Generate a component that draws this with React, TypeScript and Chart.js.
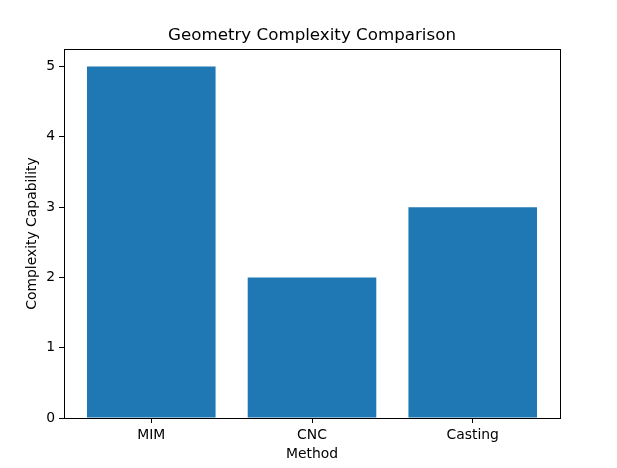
import React, { useEffect, useRef } from "react";
import { Chart, registerables } from "chart.js";

Chart.register(...registerables);

const categories = ["MIM", "CNC", "Casting"];
const complexity = [5, 2, 3];
const yTicks = [0, 1, 2, 3, 4, 5];

const FONT = "'DejaVu Sans', sans-serif";

const frame = {
  id: "frame",
  afterDatasetsDraw(chart: any) {
    const { ctx, chartArea } = chart;
    ctx.save();
    ctx.strokeStyle = "#000";
    ctx.lineWidth = 1;
    ctx.strokeRect(
      Math.round(chartArea.left) + 0.5,
      Math.round(chartArea.top) + 0.5,
      Math.round(chartArea.right - chartArea.left),
      Math.round(chartArea.bottom - chartArea.top)
    );
    ctx.restore();
  },
};

const App: React.FC = () => {
  const chartRef = useRef<HTMLCanvasElement | null>(null);
  const chartInstance = useRef<Chart | null>(null);

  useEffect(() => {
    document.body.style.margin = "0";
    if (!chartRef.current) return;
    const ctx = chartRef.current.getContext("2d");
    if (!ctx) return;
    if (chartInstance.current) chartInstance.current.destroy();

    chartInstance.current = new Chart(ctx, {
      type: "bar",
      data: {
        datasets: [
          {
            data: complexity.map((v, i) => ({ x: i, y: v })),
            backgroundColor: "#1f77b4",
            borderWidth: 0,
            inflateAmount: 0,
            barPercentage: 0.8,
            categoryPercentage: 1,
          },
        ],
      },
      options: {
        responsive: false,
        animation: false,
        layout: { padding: { left: 0, right: 57, top: 0, bottom: 0 } },
        plugins: {
          legend: { display: false },
          tooltip: { enabled: false },
          title: {
            display: true,
            fullSize: false,
            text: "Geometry Complexity Comparison",
            color: "#000",
            font: { family: FONT, size: 16.7, weight: "normal" },
            padding: { top: 26, bottom: 3 },
          },
        },
        scales: {
          x: {
            type: "linear",
            min: -0.543,
            max: 2.543,
            offset: false,
            afterFit: (s: any) => {
              s.height = 50;
            },
            afterBuildTicks: (s: any) => {
              s.ticks = categories.map((_, i) => ({ value: i }));
            },
            grid: {
              display: true,
              offset: false,
              drawOnChartArea: false,
              drawTicks: true,
              tickLength: 5,
              color: "#000",
            },
            border: { display: false },
            ticks: {
              color: "#000",
              padding: 4,
              font: { family: FONT, size: 13.9 },
              callback: (v: any) => categories[v] ?? "",
            },
            title: {
              display: true,
              text: "Method",
              color: "#000",
              font: { family: FONT, size: 13.9 },
              padding: { top: 0, bottom: 5 },
            },
          },
          y: {
            type: "linear",
            min: 0,
            max: 5.25,
            afterFit: (s: any) => {
              s.width = 64;
            },
            afterBuildTicks: (s: any) => {
              s.ticks = yTicks.map((v) => ({ value: v }));
            },
            grid: {
              display: true,
              drawOnChartArea: false,
              drawTicks: true,
              tickLength: 5,
              color: "#000",
            },
            border: { display: false },
            ticks: {
              color: "#000",
              padding: 4,
              font: { family: FONT, size: 13.9 },
            },
            title: {
              display: true,
              text: "Complexity Capability",
              color: "#000",
              font: { family: FONT, size: 13.9 },
              padding: { top: 24, bottom: 0 },
            },
          },
        },
      },
      plugins: [frame],
    });

    return () => {
      if (chartInstance.current) {
        chartInstance.current.destroy();
        chartInstance.current = null;
      }
    };
  }, []);

  return (
    <div style={{ width: 617, height: 468 }}>
      <canvas ref={chartRef} width={617} height={468}></canvas>
    </div>
  );
};

export default App;
